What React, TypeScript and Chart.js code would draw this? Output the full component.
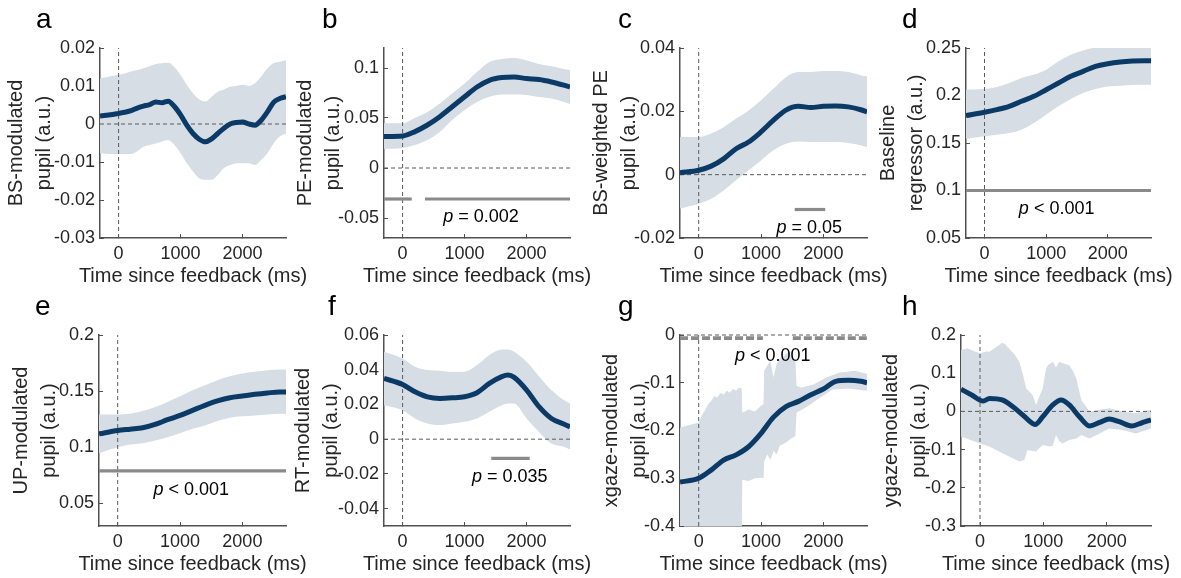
import React, { useEffect, useRef } from 'react';
import { Chart, registerables } from 'chart.js';

Chart.register(...registerables);

const FONT = '"Liberation Sans", Arial, Helvetica, sans-serif';
const NAVY = '#0b3a66';
const BAND = '#d6dde5';
const SIG = '#8a8a8a';
const AXIS = '#505050';
const TXT = '#262626';
const ZERO = '#5a5a5a';

// ---------------- shared axis data ----------------
const xMin = -300;
const xMax = 2700;
const xTicks = [0, 1000, 2000];
const xTitle = 'Time since feedback (ms)';

// time samples (ms)
const t100 = [-300, -200, -100, 0, 100, 200, 300, 400, 500, 600, 700, 800, 900, 1000, 1100, 1200, 1300, 1400, 1500, 1600, 1700, 1800, 1900, 2000, 2100, 2200, 2300, 2400, 2500, 2600, 2700];
const t200 = [-300, 0, 200, 400, 600, 800, 1000, 1200, 1400, 1600, 1800, 2000, 2200, 2400, 2600, 2700];
const tF = [-300, 0, 200, 400, 600, 800, 1000, 1200, 1400, 1600, 1700, 1800, 2000, 2200, 2400, 2600, 2700];

// ---------------- panel a ----------------
const meanA = [0.0021, 0.0023, 0.0025, 0.0028, 0.0031, 0.0035, 0.0042, 0.0047, 0.0051, 0.0058, 0.0056, 0.006, 0.0046, 0.0024, -0.0003, -0.0025, -0.004, -0.0047, -0.0039, -0.0025, -0.0011, 0, 0.0004, 0.0005, 0, -0.0003, 0.001, 0.0032, 0.0057, 0.0067, 0.0072];
const upperA = [0.012, 0.0123, 0.0126, 0.0129, 0.0133, 0.0138, 0.0142, 0.0147, 0.0152, 0.0158, 0.016, 0.0161, 0.015, 0.0129, 0.0103, 0.0081, 0.0065, 0.0059, 0.0072, 0.0085, 0.0091, 0.0098, 0.01, 0.0103, 0.01, 0.0107, 0.0125, 0.0147, 0.016, 0.0164, 0.0168];
const lowerA = [-0.0077, -0.0078, -0.0079, -0.0079, -0.0079, -0.0079, -0.0072, -0.006, -0.0055, -0.0051, -0.0046, -0.0042, -0.0055, -0.0077, -0.0103, -0.0125, -0.0143, -0.0147, -0.0147, -0.0134, -0.0116, -0.0108, -0.0103, -0.0103, -0.0103, -0.0108, -0.0095, -0.0077, -0.0051, -0.0033, -0.0025];
const yTicksA = [-0.03, -0.02, -0.01, 0, 0.01, 0.02];
const yRangeA = [-0.03, 0.02];

// ---------------- panel b ----------------
const meanB = [0.0315, 0.032, 0.0364, 0.043, 0.0513, 0.0613, 0.0712, 0.081, 0.0877, 0.0904, 0.091, 0.0894, 0.0884, 0.086, 0.0828, 0.081];
const upperB = [0.0447, 0.0447, 0.05, 0.056, 0.0646, 0.0745, 0.0844, 0.096, 0.106, 0.109, 0.11, 0.1076, 0.104, 0.1017, 0.099, 0.098];
const lowerB = [0.0189, 0.0199, 0.023, 0.028, 0.036, 0.048, 0.058, 0.066, 0.0712, 0.0735, 0.0735, 0.073, 0.071, 0.0695, 0.066, 0.064];
const yTicksB = [-0.05, 0, 0.05, 0.1];
const yRangeB = [-0.07, 0.12];
const sigB = [[-300, 147], [361, 2700]];
const sigYB = -0.031;

// ---------------- panel c ----------------
const meanC = [0.0006, 0.0014, 0.0027, 0.005, 0.0082, 0.0103, 0.0135, 0.0172, 0.0204, 0.0216, 0.0212, 0.0216, 0.0217, 0.0214, 0.0205, 0.0198];
const upperC = [0.0119, 0.0119, 0.013, 0.015, 0.0177, 0.0203, 0.0235, 0.0272, 0.0308, 0.0324, 0.0324, 0.0327, 0.0327, 0.0324, 0.0314, 0.031];
const lowerC = [-0.0107, -0.0092, -0.0076, -0.005, -0.0018, 0.0014, 0.0045, 0.0077, 0.0098, 0.0105, 0.0103, 0.0103, 0.0103, 0.01, 0.0093, 0.0087];
const yTicksC = [-0.02, 0, 0.02, 0.04];
const yRangeC = [-0.02, 0.04];
const sigC = [[1540, 2030]];
const sigYC = -0.011;

// ---------------- panel d ----------------
const meanD = [0.1788, 0.1823, 0.1851, 0.1886, 0.1939, 0.1991, 0.2061, 0.2132, 0.2202, 0.2254, 0.2307, 0.2335, 0.2353, 0.2363, 0.2367, 0.2367];
const upperD = [0.2061, 0.2068, 0.209, 0.2132, 0.2184, 0.222, 0.2272, 0.236, 0.243, 0.2475, 0.2505, 0.2515, 0.252, 0.252, 0.252, 0.252];
const lowerD = [0.1542, 0.157, 0.1588, 0.1605, 0.164, 0.171, 0.1798, 0.1886, 0.1963, 0.2026, 0.2068, 0.2096, 0.2103, 0.211, 0.2112, 0.2114];
const yTicksD = [0.05, 0.1, 0.15, 0.2, 0.25];
const yRangeD = [0.05, 0.25];
const sigD = [[-300, 2700]];
const sigYD = 0.1;

// ---------------- panel e ----------------
const meanE = [0.112, 0.115, 0.1162, 0.1174, 0.1204, 0.1246, 0.1284, 0.1329, 0.1374, 0.1413, 0.1442, 0.1457, 0.1472, 0.1484, 0.1493, 0.1493];
const upperE = [0.1293, 0.1293, 0.13, 0.1323, 0.1359, 0.1404, 0.1454, 0.1508, 0.1553, 0.1598, 0.1633, 0.1657, 0.1672, 0.1687, 0.1692, 0.1693];
const lowerE = [0.0948, 0.1, 0.1025, 0.1037, 0.1061, 0.1091, 0.1126, 0.1165, 0.1195, 0.1234, 0.1264, 0.1276, 0.1284, 0.1293, 0.1298, 0.13];
const yTicksE = [0.05, 0.1, 0.15, 0.2];
const yRangeE = [0.03, 0.2];
const sigE = [[-300, 2700]];
const sigYE = 0.079;

// ---------------- panel f ----------------
const meanF = [0.035, 0.0315, 0.0273, 0.0244, 0.0235, 0.0238, 0.0244, 0.0267, 0.0321, 0.036, 0.0369, 0.0356, 0.0283, 0.0187, 0.0119, 0.0087, 0.0071];
const upperF = [0.0504, 0.0465, 0.0417, 0.0398, 0.0394, 0.0388, 0.0388, 0.0427, 0.0485, 0.0517, 0.0517, 0.0504, 0.0446, 0.0363, 0.0283, 0.0225, 0.0206];
const lowerF = [0.0196, 0.0167, 0.0119, 0.009, 0.0081, 0.009, 0.01, 0.0119, 0.0158, 0.0196, 0.0206, 0.0206, 0.0119, 0.0042, -0.0025, -0.0044, -0.006];
const yTicksF = [-0.04, -0.02, 0, 0.02, 0.04, 0.06];
const yRangeF = [-0.05, 0.06];
const sigF = [[1430, 2050]];
const sigYF = -0.011;

// ---------------- panel g ----------------
const meanG = [-0.308, -0.3, -0.283, -0.262, -0.251, -0.234, -0.206, -0.172, -0.15, -0.139, -0.125, -0.113, -0.097, -0.095, -0.097, -0.1];
const tGu = [-300, -200, -100, 0, 50, 100, 150, 200, 250, 300, 350, 400, 450, 500, 550, 600, 650, 690, 700, 800, 900, 1000, 1040, 1050, 1100, 1150, 1200, 1250, 1300, 1350, 1400, 1450, 1500, 1550, 1570, 1650, 1850, 2050, 2250, 2500, 2700];
const upperG = [-0.194, -0.19, -0.187, -0.184, -0.168, -0.158, -0.145, -0.138, -0.128, -0.131, -0.121, -0.125, -0.117, -0.121, -0.113, -0.117, -0.11, -0.112, -0.163, -0.156, -0.16, -0.148, -0.145, -0.075, -0.064, -0.055, -0.089, -0.06, -0.05, -0.046, -0.04, -0.036, -0.047, -0.05, -0.107, -0.11, -0.103, -0.089, -0.079, -0.075, -0.081];
const tGl = [-300, 300, 600, 690, 700, 800, 900, 1000, 1040, 1050, 1100, 1150, 1200, 1250, 1300, 1400, 1500, 1550, 1570, 1750, 1950, 2150, 2400, 2700];
const lowerG = [-0.45, -0.44, -0.43, -0.42, -0.303, -0.306, -0.3, -0.299, -0.3, -0.265, -0.25, -0.262, -0.243, -0.25, -0.232, -0.225, -0.215, -0.212, -0.163, -0.149, -0.131, -0.114, -0.112, -0.117];
const yTicksG = [-0.4, -0.3, -0.2, -0.1, 0];
const yRangeG = [-0.4, 0];
const sigG = [[-300, 1030], [1510, 2700]];
const sigYG = -0.0065;

// ---------------- panel h ----------------
const tHm = [-300, -130, 50, 150, 350, 520, 680, 870, 990, 1150, 1280, 1410, 1570, 1730, 1890, 2040, 2200, 2390, 2540, 2700];
const meanH = [0.058, 0.043, 0.027, 0.034, 0.03, 0.012, -0.01, -0.034, -0.014, 0.017, 0.03, 0.017, -0.014, -0.038, -0.029, -0.02, -0.027, -0.038, -0.031, -0.022];
const tHu = [-300, -200, -100, 0, 100, 150, 250, 300, 350, 400, 460, 550, 620, 680, 730, 830, 885, 940, 990, 1040, 1070, 1150, 1200, 1250, 1330, 1410, 1470, 1520, 1600, 1730, 1890, 2040, 2250, 2460, 2700];
const upperH = [0.16, 0.165, 0.158, 0.152, 0.157, 0.156, 0.168, 0.173, 0.18, 0.176, 0.164, 0.148, 0.13, 0.095, 0.06, 0.043, 0.017, 0.04, 0.06, 0.11, 0.121, 0.13, 0.115, 0.13, 0.125, 0.121, 0.105, 0.086, 0.03, 0.0, 0.004, 0.008, 0.0, -0.005, 0.004];
const tHl = [-300, 0, 150, 300, 460, 620, 700, 750, 885, 990, 1100, 1150, 1200, 1250, 1300, 1410, 1520, 1600, 1730, 1890, 2040, 2250, 2460, 2700];
const lowerH = [-0.066, -0.084, -0.092, -0.105, -0.118, -0.131, -0.127, -0.101, -0.105, -0.088, -0.092, -0.09, -0.062, -0.078, -0.084, -0.075, -0.071, -0.062, -0.071, -0.058, -0.045, -0.049, -0.058, -0.045];
const yTicksH = [-0.3, -0.2, -0.1, 0, 0.1, 0.2];
const yRangeH = [-0.3, 0.2];

// ---------------- panel assembly ----------------
type PanelDef = {
  letter: string;
  yTitle: string[];
  tMean: number[]; mean: number[];
  tUp: number[]; upper: number[];
  tLo: number[]; lower: number[];
  smoothBand: boolean;
  yTicks: number[]; yRange: number[];
  sig: number[][]; sigY: number; sigDash?: number[]; sigWidth?: number;
  pText?: { x: number; y: number; text: string };
  // layout (page px)
  axisX: number; plotRight: number; plotTop: number; plotBottom: number;
  titleAnchor: number; letterDx: number; canvasTop: number; canvasH: number;
};

const PANELS: PanelDef[] = [
  { letter: 'a', yTitle: ['BS-modulated', 'pupil (a.u.)'], tMean: t100, mean: meanA, tUp: t100, upper: upperA, tLo: t100, lower: lowerA, smoothBand: true, yTicks: yTicksA, yRange: yRangeA, sig: [], sigY: 0,
    axisX: 100, plotRight: 286, plotTop: 48, plotBottom: 238, titleAnchor: 16, letterDx: -64, canvasTop: 0, canvasH: 290 },
  { letter: 'b', yTitle: ['PE-modulated', 'pupil (a.u.)'], tMean: t200, mean: meanB, tUp: t200, upper: upperB, tLo: t200, lower: lowerB, smoothBand: true, yTicks: yTicksB, yRange: yRangeB, sig: sigB, sigY: sigYB,
    pText: { x: 1265, y: -0.049, text: ' = 0.002' },
    axisX: 384, plotRight: 570, plotTop: 48, plotBottom: 238, titleAnchor: 305, letterDx: -62, canvasTop: 0, canvasH: 290 },
  { letter: 'c', yTitle: ['BS-weighted PE', 'pupil (a.u.)'], tMean: t200, mean: meanC, tUp: t200, upper: upperC, tLo: t200, lower: lowerC, smoothBand: true, yTicks: yTicksC, yRange: yRangeC, sig: sigC, sigY: sigYC,
    pText: { x: 1772, y: -0.0169, text: ' = 0.05' },
    axisX: 680, plotRight: 867, plotTop: 48, plotBottom: 238, titleAnchor: 601, letterDx: -62, canvasTop: 0, canvasH: 290 },
  { letter: 'd', yTitle: ['Baseline', 'regressor (a.u.)'], tMean: t200, mean: meanD, tUp: t200, upper: upperD, tLo: t200, lower: lowerD, smoothBand: true, yTicks: yTicksD, yRange: yRangeD, sig: sigD, sigY: sigYD,
    pText: { x: 1170, y: 0.0807, text: ' < 0.001' },
    axisX: 966, plotRight: 1151, plotTop: 48, plotBottom: 238, titleAnchor: 888, letterDx: -64, canvasTop: 0, canvasH: 290 },
  { letter: 'e', yTitle: ['UP-modulated', 'pupil (a.u.)'], tMean: t200, mean: meanE, tUp: t200, upper: upperE, tLo: t200, lower: lowerE, smoothBand: true, yTicks: yTicksE, yRange: yRangeE, sig: sigE, sigY: sigYE,
    pText: { x: 1180, y: 0.0616, text: ' < 0.001' },
    axisX: 99, plotRight: 286, plotTop: 335, plotBottom: 526, titleAnchor: 21, letterDx: -64, canvasTop: 290, canvasH: 288 },
  { letter: 'f', yTitle: ['RT-modulated', 'pupil (a.u.)'], tMean: tF, mean: meanF, tUp: tF, upper: upperF, tLo: tF, lower: lowerF, smoothBand: true, yTicks: yTicksF, yRange: yRangeF, sig: sigF, sigY: sigYF,
    pText: { x: 1729, y: -0.0218, text: ' = 0.035' },
    axisX: 384, plotRight: 570, plotTop: 335, plotBottom: 526, titleAnchor: 303, letterDx: -56, canvasTop: 290, canvasH: 288 },
  { letter: 'g', yTitle: ['xgaze-modulated', 'pupil (a.u.)'], tMean: t200, mean: meanG, tUp: tGu, upper: upperG, tLo: tGl, lower: lowerG, smoothBand: false, yTicks: yTicksG, yRange: yRangeG, sig: sigG, sigY: sigYG, sigDash: [8, 3], sigWidth: 3.8,
    pText: { x: 1189, y: -0.045, text: ' < 0.001' },
    axisX: 680, plotRight: 867, plotTop: 335, plotBottom: 526, titleAnchor: 611, letterDx: -62, canvasTop: 290, canvasH: 288 },
  { letter: 'h', yTitle: ['ygaze-modulated', 'pupil (a.u.)'], tMean: tHm, mean: meanH, tUp: tHu, upper: upperH, tLo: tHl, lower: lowerH, smoothBand: false, yTicks: yTicksH, yRange: yRangeH, sig: [], sigY: 0,
    axisX: 961, plotRight: 1151, plotTop: 335, plotBottom: 526, titleAnchor: 891, letterDx: -59, canvasTop: 290, canvasH: 288 },
];

const fmt = (v: number) => String(Math.round(v * 10000) / 10000);

const panelTextPlugin = {
  id: 'panelText',
  afterDraw(chart: any, _args: any, opts: any) {
    const { ctx, chartArea, scales } = chart;
    ctx.save();
    // panel letter
    ctx.fillStyle = '#000';
    ctx.font = `28px ${FONT}`;
    ctx.textAlign = 'left';
    ctx.textBaseline = 'alphabetic';
    ctx.fillText(opts.letter, chartArea.left + opts.letterDx, chartArea.top - 20);
    // x title
    ctx.fillStyle = TXT;
    ctx.font = `20px ${FONT}`;
    ctx.textAlign = 'center';
    ctx.fillText(opts.xTitle, (chartArea.left + chartArea.right) / 2, chartArea.bottom + 44);
    // p-value
    if (opts.pText) {
      const px = scales.x.getPixelForValue(opts.pText.x);
      const py = scales.y.getPixelForValue(opts.pText.y);
      ctx.font = `italic 18px ${FONT}`;
      const wp = ctx.measureText('p').width;
      ctx.font = `18px ${FONT}`;
      const wr = ctx.measureText(opts.pText.text).width;
      const x0 = px - (wp + wr) / 2;
      ctx.fillStyle = '#000';
      ctx.textAlign = 'left';
      ctx.textBaseline = 'middle';
      ctx.font = `italic 18px ${FONT}`;
      ctx.fillText('p', x0, py);
      ctx.font = `18px ${FONT}`;
      ctx.fillText(opts.pText.text, x0 + wp, py);
    }
    ctx.restore();
  },
};

function geometry(p: PanelDef) {
  const cl = Math.round(p.titleAnchor - 14);
  const cw = Math.min(Math.round(p.plotRight + 28) - cl, 1181 - cl);
  const ct = p.canvasTop;
  const ch = p.canvasH;
  const yW = p.axisX - cl;
  const padTop = p.plotTop - ct;
  const padRight = cw - (p.plotRight - cl);
  const xH = ch - (p.plotBottom - ct);
  return { cl, cw, ct, ch, yW, padTop, padRight, xH };
}

function makeConfig(p: PanelDef): any {
  const g = geometry(p);
  const pts = (t: number[], v: number[]) => t.map((x, i) => ({ x, y: v[i] }));
  const datasets: any[] = [];
  datasets.push({
    data: pts(p.tUp, p.upper), borderColor: 'rgba(0,0,0,0)', borderWidth: 0, backgroundColor: BAND,
    fill: '+1', pointRadius: 0, tension: 0, cubicInterpolationMode: p.smoothBand ? 'monotone' : 'default', order: 6,
  });
  datasets.push({
    data: pts(p.tLo, p.lower), borderColor: 'rgba(0,0,0,0)', borderWidth: 0, backgroundColor: BAND,
    fill: false, pointRadius: 0, tension: 0, cubicInterpolationMode: p.smoothBand ? 'monotone' : 'default', order: 5,
  });
  if (p.yRange[0] < 0 && p.yRange[1] >= 0) {
    datasets.push({
      data: [{ x: xMin, y: 0 }, { x: xMax, y: 0 }], borderColor: ZERO, borderWidth: 1, borderDash: [4, 3],
      pointRadius: 0, fill: false, clip: 3, order: 4,
    });
  }
  datasets.push({
    data: [{ x: 0, y: p.yRange[0] }, { x: 0, y: p.yRange[1] }], borderColor: ZERO, borderWidth: 1, borderDash: [4, 3],
    pointRadius: 0, fill: false, clip: 3, order: 4,
  });
  p.sig.forEach(([a, b]) => {
    datasets.push({
      data: [{ x: a, y: p.sigY }, { x: b, y: p.sigY }], borderColor: SIG, borderWidth: p.sigWidth || 3.2,
      borderDash: p.sigDash || [], pointRadius: 0, fill: false, clip: 4, order: 2,
    });
  });
  datasets.push({
    data: pts(p.tMean, p.mean), borderColor: NAVY, borderWidth: 5, pointRadius: 0, fill: false,
    cubicInterpolationMode: 'monotone', borderCapStyle: 'butt', borderJoinStyle: 'round', order: 0,
  });

  const tickFont = { family: FONT, size: 18 };
  const grid = { display: true, drawOnChartArea: false, drawTicks: true, tickLength: -4, color: AXIS, lineWidth: 1 };
  const border = { display: true, color: AXIS, width: 1.5 };

  return {
    type: 'line',
    data: { datasets },
    plugins: [panelTextPlugin],
    options: {
      responsive: false,
      animation: false,
      devicePixelRatio: 1,
      events: [],
      layout: { padding: { left: 0, top: g.padTop, right: g.padRight, bottom: 0 } },
      plugins: {
        legend: { display: false },
        tooltip: { enabled: false },
        title: { display: false },
        panelText: { letter: p.letter, letterDx: p.letterDx, xTitle, pText: p.pText },
      },
      scales: {
        x: {
          type: 'linear', position: 'bottom', min: xMin, max: xMax, z: 1,
          afterBuildTicks: (s: any) => { s.ticks = xTicks.map((v) => ({ value: v })); },
          afterFit: (s: any) => { s.height = g.xH; s.paddingLeft = 0; s.paddingRight = 0; s.paddingTop = 0; s.paddingBottom = 0; },
          ticks: { padding: 9, color: TXT, font: tickFont, maxRotation: 0, autoSkip: false, callback: (v: number) => fmt(v) },
          grid, border,
          title: { display: false },
        },
        y: {
          type: 'linear', position: 'left', min: p.yRange[0], max: p.yRange[1], z: 1,
          afterBuildTicks: (s: any) => { s.ticks = p.yTicks.map((v) => ({ value: v })); },
          afterFit: (s: any) => { s.width = g.yW; s.paddingLeft = 0; s.paddingRight = 0; s.paddingTop = 0; s.paddingBottom = 0; },
          ticks: { padding: 9, color: TXT, font: tickFont, autoSkip: false, callback: (v: number) => fmt(v) },
          grid, border,
          title: { display: true, text: p.yTitle, color: TXT, font: { family: FONT, size: 20, lineHeight: 1.4 }, padding: 0 },
        },
      },
    },
  };
}

function Panel({ p }: { p: PanelDef }) {
  const ref = useRef<HTMLCanvasElement>(null);
  const g = geometry(p);
  useEffect(() => {
    const chart = new Chart(ref.current as HTMLCanvasElement, makeConfig(p));
    return () => chart.destroy();
  }, []);
  return (
    <canvas
      ref={ref}
      width={g.cw}
      height={g.ch}
      style={{ position: 'absolute', left: g.cl, top: g.ct, width: g.cw, height: g.ch }}
    />
  );
}

export default function App() {
  return (
    <div style={{ position: 'absolute', left: 0, top: 0, width: 1181, height: 578, background: '#fff', overflow: 'hidden' }}>
      {PANELS.map((p) => (
        <Panel key={p.letter} p={p} />
      ))}
    </div>
  );
}
